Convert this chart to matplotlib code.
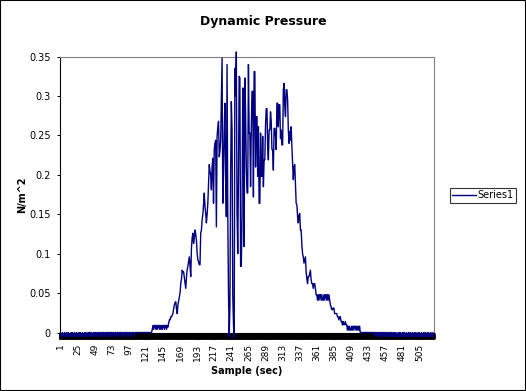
import matplotlib
matplotlib.use("Agg")
import matplotlib.pyplot as plt
import numpy as np
from matplotlib.patches import Rectangle

# Values, one per sample.
quiet_start = [
    0, -0.005, -0.005, 0, -0.005, -0.004, 0, -0.005, -0.005, 0,
    -0.005, 0, -0.005, -0.005, -0.004, 0, -0.005, 0, -0.005, -0.005,
    0, -0.004, -0.005, 0, -0.005, -0.005, 0, -0.005, 0, -0.004,
    -0.005, 0, -0.005, -0.005, 0, -0.005, 0, -0.005, -0.004, 0,
    -0.005, 0, 0, -0.005, 0, -0.005, -0.005, 0, -0.004, 0,
    -0.005, 0, -0.005, 0, 0, -0.005, 0, -0.005, 0, -0.004,
    0, 0, -0.005, 0, -0.005, 0, 0, -0.005, 0, 0,
    -0.005, 0, 0, -0.004, 0, 0, -0.005, 0, 0, -0.005,
    0, 0, -0.005, 0, 0, 0, -0.005, 0, 0, -0.005,
    0, 0, 0, -0.005, 0, 0, -0.005, 0, 0, 0,
    -0.005, 0, 0, 0, -0.005, 0, 0, 0, 0,
]
flat_start = [0] * 20
onset = [
    0.004, 0.009, 0.004, 0.009, 0.009, 0.004, 0.009, 0.004, 0.009, 0.009,
    0.004, 0.009, 0.004, 0.009, 0.004, 0.009, 0.009, 0.004, 0.009, 0.009,
    0.004, 0.009, 0.007,
]
rise_and_peak = [
    0.012, 0.016, 0.016, 0.02, 0.02, 0.022, 0.024, 0.03, 0.035, 0.038,
    0.039, 0.03, 0.024, 0.035, 0.04, 0.045, 0.05, 0.062, 0.068, 0.079,
    0.076, 0.077, 0.07, 0.062, 0.056, 0.07, 0.08, 0.084, 0.09, 0.096,
    0.085, 0.071, 0.107, 0.12, 0.126, 0.113, 0.12, 0.13, 0.125, 0.117,
    0.1, 0.092, 0.09, 0.086, 0.086, 0.126, 0.13, 0.143, 0.15, 0.162,
    0.177, 0.16, 0.151, 0.139, 0.15, 0.164, 0.19, 0.213, 0.205, 0.2,
    0.181, 0.21, 0.221, 0.164, 0.232, 0.24, 0.244, 0.134, 0.249, 0.26,
    0.268, 0.223, 0.23, 0.244, 0.3, 0.348, 0.164, 0.2, 0.255, 0.291,
    0.2, 0.147, 0.34, 0.151, 0.05, -0.005, 0.033, 0.2, 0.293, 0.257,
    0.048, 0.01, -0.007, 0.335, 0.3, 0.356, 0.151, 0.1, 0.2, 0.325,
    0.323, 0.084, 0.084, 0.147, 0.31, 0.31, 0.109, 0.323, 0.28, 0.21,
    0.177, 0.177, 0.34, 0.253, 0.253, 0.185, 0.259, 0.306, 0.306, 0.172,
    0.331, 0.331, 0.21, 0.274, 0.274, 0.198, 0.261, 0.164, 0.164, 0.253,
    0.198, 0.198, 0.249, 0.185, 0.219, 0.219, 0.263, 0.284, 0.284, 0.236,
    0.219, 0.257, 0.257, 0.28, 0.268, 0.232, 0.232, 0.206, 0.259, 0.259,
    0.249, 0.232, 0.291, 0.291, 0.261, 0.289, 0.289, 0.246, 0.257, 0.238,
    0.238, 0.308, 0.316, 0.287, 0.274, 0.308, 0.308, 0.295, 0.257, 0.24,
    0.255, 0.244, 0.261, 0.236, 0.215, 0.194, 0.21, 0.213, 0.189, 0.164,
    0.162, 0.147, 0.139, 0.149, 0.151,
]
decay = [
    0.13, 0.13, 0.111, 0.1, 0.096, 0.088, 0.092, 0.096, 0.077, 0.068,
    0.062, 0.071, 0.071, 0.075, 0.079, 0.067, 0.062, 0.062, 0.056, 0.062,
    0.062, 0.056, 0.048, 0.048, 0.041, 0.048, 0.041, 0.048, 0.048, 0.041,
    0.048, 0.041, 0.041, 0.048, 0.041, 0.048, 0.048, 0.041, 0.048, 0.041,
    0.048, 0.041, 0.035, 0.033, 0.029, 0.029, 0.031, 0.031, 0.024, 0.024,
    0.024, 0.024, 0.02, 0.02, 0.016, 0.02, 0.02, 0.014, 0.014, 0.0095,
    0.014, 0.01, 0.01, 0.014, 0.01, 0.01, 0.003, 0.008, 0.003, 0.008,
    0.003, 0.003, 0.008, 0.003, 0.008, 0.003, 0.008, 0.008, 0.003, 0.008,
    0.003, 0.008, 0.003, 0.008,
]
flat_end = [0] * 17
quiet_end = [
    0, 0, 0, -0.005, 0, 0, -0.005, 0, 0, -0.005,
    0, 0, -0.005, 0, 0, -0.005, 0, 0, -0.005, 0,
    -0.005, 0, 0, -0.005, 0, -0.005, 0, 0, -0.005, 0,
    -0.005, 0, -0.005, 0, -0.005, -0.005, 0, -0.005, 0, -0.005,
    0, -0.005, -0.004, 0, -0.005, 0, -0.005, -0.005, 0, -0.005,
    -0.005, 0, -0.005, 0, -0.005, -0.005, 0, -0.004, -0.005, 0,
    -0.005, 0, -0.005, -0.005, 0, -0.005, 0, -0.005, -0.005, 0,
    -0.005, -0.005, 0, -0.005, 0, -0.005, -0.005, 0, -0.005, 0,
    -0.005, -0.005, 0, -0.005, -0.005, 0, -0.005,
]

pressure = quiet_start + flat_start + onset + rise_and_peak + decay + flat_end + quiet_end
samples = np.arange(1, len(pressure) + 1)

x_tick_labels = ["1", "25", "49", "73", "97", "121", "145", "169", "193", "217",
                 "241", "265", "289", "313", "337", "361", "385", "409", "433",
                 "457", "481", "505"]
y_ticks = [0, 0.05, 0.1, 0.15, 0.2, 0.25, 0.3, 0.35]
y_tick_labels = ["0", "0.05", "0.1", "0.15", "0.2", "0.25", "0.3", "0.35"]

fig = plt.figure(figsize=(5.26, 3.91), dpi=100)
ax = fig.add_axes([0.1141, 0.1496, 0.711, 0.7055])

ax.plot(samples, pressure, color="#000080", linewidth=1.0, label="Series1",
        clip_on=False, zorder=3)

ax.set_xlim(0.5, len(pressure) + 0.5)
ax.set_ylim(0, 0.35)

ax.set_xticks([int(t) for t in x_tick_labels])
ax.set_xticklabels(x_tick_labels, rotation=90, fontsize=6.5)
ax.set_xticks(np.arange(0.5, len(pressure) + 1, 1), minor=True)
ax.tick_params(axis="x", which="both", direction="out", length=4.0, width=2.0, pad=4)

ax.set_yticks(y_ticks)
ax.set_yticklabels(y_tick_labels, fontsize=7)
ax.tick_params(axis="y", direction="out", length=2.5, width=0.7, pad=4)

for side in ["top", "right"]:
    ax.spines[side].set_color("#808080")
    ax.spines[side].set_linewidth(0.8)
for side in ["left", "bottom"]:
    ax.spines[side].set_color("black")
    ax.spines[side].set_linewidth(0.8)

fig.text(0.5, 0.944, "Dynamic Pressure", ha="center", va="center",
         fontsize=9, fontweight="bold")
fig.text(0.4696, 0.051, "Sample (sec)", ha="center", va="center",
         fontsize=7, fontweight="bold")
fig.text(0.042, 0.502, "N/m^2", ha="center", va="center", rotation=90,
         fontsize=7, fontweight="bold")

leg = ax.legend(loc="center left", bbox_to_anchor=(0.8555, 0.5),
                bbox_transform=fig.transFigure, fontsize=7, frameon=True,
                fancybox=False, borderpad=0.25, handlelength=2.4,
                handletextpad=0.2, borderaxespad=0)
leg.get_frame().set_edgecolor("black")
leg.get_frame().set_linewidth(0.8)

fig.patches.append(Rectangle((0, 0), 1, 1, transform=fig.transFigure,
                             fill=False, edgecolor="black", linewidth=1.5))

fig.savefig("out.png", dpi=100)
